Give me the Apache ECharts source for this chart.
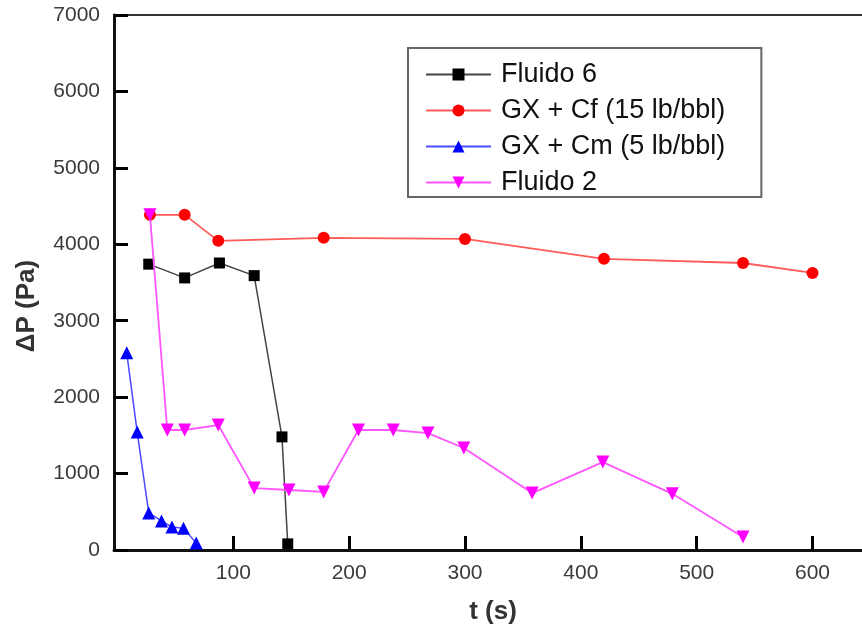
<!DOCTYPE html>
<html>
<head>
<meta charset="utf-8">
<script src="https://cdn.jsdelivr.net/npm/echarts@6/dist/echarts.min.js"></script>
<style>
  html, body { margin: 0; padding: 0; background: #fff; }
  #chart { width: 862px; height: 634px; }
</style>
</head>
<body>
<div id="chart"></div>
<script>
// ---- Data ----
const seriesNames = ['Fluido 6', 'GX + Cf (15 lb/bbl)', 'GX + Cm (5 lb/bbl)', 'Fluido 2'];

const fluido6T = [27, 58, 88, 118, 142, 147];
const fluido6P = [3740, 3560, 3755, 3590, 1480, 80];

const gxCfT = [28, 58, 87, 178, 300, 420, 540, 600];
const gxCfP = [4385, 4385, 4045, 4085, 4070, 3810, 3755, 3625];

const gxCmT = [8, 17, 27, 38, 47, 57, 68];
const gxCmP = [2580, 1545, 485, 380, 300, 285, 90];

const fluido2T = [28, 43, 58, 87, 118, 148, 178, 208, 238, 268, 299, 358, 419, 479, 540];
const fluido2P = [4385, 1570, 1570, 1635, 810, 785, 760, 1570, 1570, 1530, 1335, 745, 1150, 735, 170];

const xTicks = [100, 200, 300, 400, 500, 600];

function pairs(t, p) { return t.map((v, i) => [v, p[i]]); }

const FONT = "'Liberation Sans', Arial, sans-serif";

const chart = echarts.init(document.getElementById('chart'));
chart.setOption({
  animation: false,
  backgroundColor: '#fff',
  grid: {
    show: true,
    left: 114, top: 15, width: 768, height: 535,
    outerBoundsMode: 'none',
    containLabel: false,
    borderColor: '#333', borderWidth: 2,
    backgroundColor: 'transparent'
  },
  xAxis: {
    type: 'value',
    min: -3, max: 660,
    axisLine: { show: true, onZero: false, lineStyle: { color: '#111', width: 3 } },
    axisTick: { show: true, inside: true, length: 14, customValues: xTicks, lineStyle: { color: '#000', width: 3 } },
    axisLabel: { customValues: xTicks, margin: 13, fontSize: 21, color: '#3a3a3a', fontFamily: FONT },
    splitLine: { show: false }
  },
  yAxis: {
    type: 'value',
    min: 0, max: 7000, interval: 1000,
    axisLine: { show: true, onZero: false, lineStyle: { color: '#111', width: 3 } },
    axisTick: { show: true, inside: true, length: 14, lineStyle: { color: '#000', width: 3 } },
    axisLabel: { margin: 14, fontSize: 21, color: '#3a3a3a', fontFamily: FONT, formatter: (v) => String(v) },
    splitLine: { show: false }
  },
  graphic: [
    {
      type: 'text', x: 493, y: 612,
      style: { text: 't (s)', font: "bold 26px 'Liberation Sans', Arial, sans-serif", fill: '#333', align: 'center', verticalAlign: 'middle' }
    },
    {
      type: 'text', x: 27, y: 306, rotation: Math.PI / 2,
      style: { text: 'ΔP (Pa)', font: "bold 26px 'Liberation Sans', Arial, sans-serif", fill: '#333', align: 'center', verticalAlign: 'middle' }
    }
  ],
  legend: {
    orient: 'vertical',
    left: 408, top: 48,
    padding: [13, 36, 1, 17],
    itemWidth: 65, itemHeight: 15, itemGap: 9,
    borderColor: '#666', borderWidth: 2,
    selectedMode: false,
    textStyle: { fontSize: 27, lineHeight: 26, color: '#111', fontFamily: FONT, padding: [0, 0, 0, 5] },
    data: seriesNames
  },
  series: [
    {
      name: seriesNames[0], type: 'line',
      data: pairs(fluido6T, fluido6P),
      symbol: 'rect', symbolSize: 11,
      itemStyle: { color: '#000' },
      lineStyle: { color: '#444', width: 1.5 },
      z: 4
    },
    {
      name: seriesNames[1], type: 'line',
      data: pairs(gxCfT, gxCfP),
      symbol: 'circle', symbolSize: 12,
      itemStyle: { color: '#ff0000' },
      lineStyle: { color: '#ff5a5a', width: 1.8 },
      z: 3
    },
    {
      name: seriesNames[2], type: 'line',
      data: pairs(gxCmT, gxCmP),
      symbol: 'triangle', symbolSize: 13,
      itemStyle: { color: '#0000ff' },
      lineStyle: { color: '#4a4aff', width: 1.5 },
      z: 5
    },
    {
      name: seriesNames[3], type: 'line',
      data: pairs(fluido2T, fluido2P),
      symbol: 'triangle', symbolRotate: 180, symbolSize: 13,
      itemStyle: { color: '#ff00ff' },
      lineStyle: { color: '#ff55ff', width: 1.8 },
      z: 6
    }
  ]
});
</script>
</body>
</html>
